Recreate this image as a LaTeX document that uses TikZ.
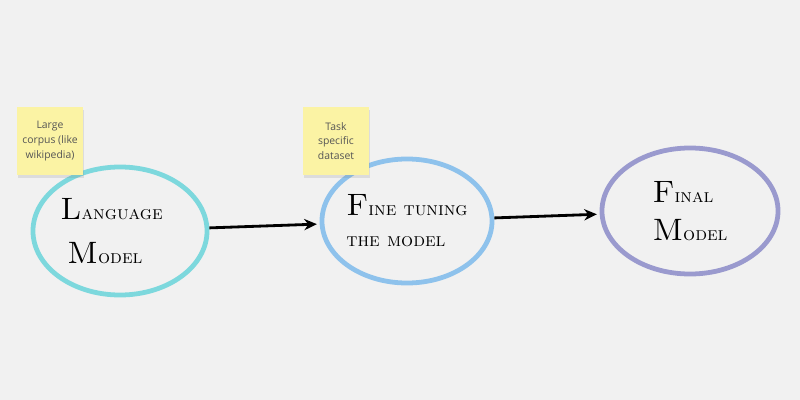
\documentclass[tikz,border=0pt]{standalone}
\usepackage{fontspec}
\newfontfamily\notefont{Open Sans}
\usetikzlibrary{shapes,arrows.meta,positioning,shapes.geometric,shadows}
\usepackage{xcolor}
\definecolor{boardbg}{HTML}{F1F1F1}
\definecolor{noteyellow}{HTML}{FBF3A4}
\definecolor{notetext}{HTML}{555555}
\definecolor{lmcyan}{HTML}{7DD8DD}
\definecolor{ftblue}{HTML}{8EC2EC}
\definecolor{fmpurple}{HTML}{9A9ACE}
\newcommand{\bigini}[1]{{\fontsize{22}{22}\selectfont #1}}

\begin{document}
\begin{tikzpicture}[
    x=0.025cm, y=-0.025cm,
    blob/.style={ellipse, line width=3.4pt, inner sep=-12pt, align=left, font=\fontsize{13.5}{22}\selectfont\scshape},
    note/.style={rectangle, fill=noteyellow, minimum width=1.65cm, minimum height=1.68cm, inner sep=1pt, align=center, text=notetext, font=\notefont\fontsize{7.4}{10.4}\selectfont, drop shadow={shadow xshift=0.6pt, shadow yshift=-2.2pt, opacity=0.18}},
    arrow/.style={-{Stealth[length=9pt,width=8pt]}, line width=2pt, shorten >=2pt}
]

% Board
\fill[boardbg] (0,0) rectangle (800,400);
\useasboundingbox (0,0) rectangle (800,400);

% Models
\node[blob, draw=lmcyan, minimum width=4.35cm, minimum height=3.2cm] (lm) at (120,231) {\bigini{L}anguage\hspace*{12pt}\\[9pt] \hspace*{5pt}\bigini{M}odel};
\node[blob, draw=ftblue, minimum width=4.25cm, minimum height=3.1cm] (ft) at (407,221) {\bigini{F}ine tuning\\ the model};
\node[blob, draw=fmpurple, minimum width=4.4cm, minimum height=3.15cm] (fm) at (690,211) {\bigini{F}inal\\[5pt] \bigini{M}odel};

% Sticky notes
\node[note] (corpus) at (50,141) {Large\\corpus (like\\wikipedia)};
\node[note] (dataset) at (336,141) {Task\\specific\\dataset};

% Flow
\draw[arrow] (lm) -- (ft);
\draw[arrow] (ft) -- (fm);

\end{tikzpicture}
\end{document}
